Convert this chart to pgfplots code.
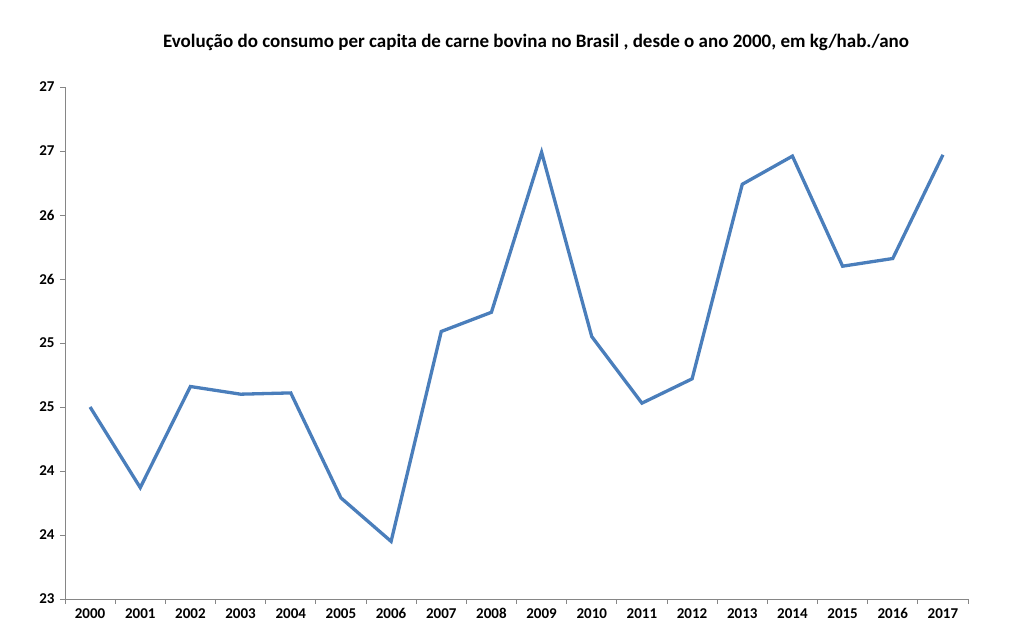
\documentclass[border=0pt]{standalone}
\usepackage{pgfplots}
\pgfplotsset{compat=1.18}
\usepackage{fontspec}
\setmainfont{Carlito}
\definecolor{serie}{HTML}{4A7EBB}
\definecolor{eixo}{HTML}{868686}

\pgfplotstableread{
ano valor
0  24.50
1  23.87
2  24.66
3  24.60
4  24.61
5  23.79
6  23.45
7  25.09
8  25.24
9  26.49
10 25.05
11 24.53
12 24.72
13 26.24
14 26.46
15 25.60
16 25.66
17 26.47
}\consumo

\begin{document}
\begin{tikzpicture}[x=1bp,y=1bp]
\useasboundingbox (0,0) rectangle (1013,632);
\node[font=\bfseries\fontsize{19bp}{22bp}\selectfont, anchor=center] at (536,590)
  {Evolução do consumo per capita de carne bovina no Brasil , desde o ano 2000, em kg/hab./ano};
\begin{axis}[
  at={(65bp,33bp)}, anchor=south west,
  width=903bp, height=512bp, scale only axis,
  xmin=-0.5, xmax=17.5, ymin=23, ymax=27,
  axis x line*=bottom, axis y line*=left,
  axis line style={eixo, line width=0.9bp, -},
  xtick={0,...,17},
  xticklabels={2000,2001,2002,2003,2004,2005,2006,2007,2008,2009,2010,2011,2012,2013,2014,2015,2016,2017},
  minor xtick={-0.5,0.5,...,17.5},
  ytick={23,23.5,...,27},
  yticklabels={23,24,24,25,25,26,26,27,27},
  tick align=outside,
  major tick length=5bp, minor tick length=5bp,
  x tick style={draw=none},
  minor x tick style={eixo, line width=0.9bp, draw},
  y tick style={eixo, line width=0.9bp},
  tick label style={font=\bfseries\fontsize{15bp}{18bp}\selectfont},
  xticklabel style={yshift=-1bp},
  yticklabel style={xshift=-2bp},
  grid=none,
]
\addplot[serie, line width=3.3bp, line join=miter] table[x=ano, y=valor] {\consumo};
\end{axis}
\end{tikzpicture}
\end{document}
